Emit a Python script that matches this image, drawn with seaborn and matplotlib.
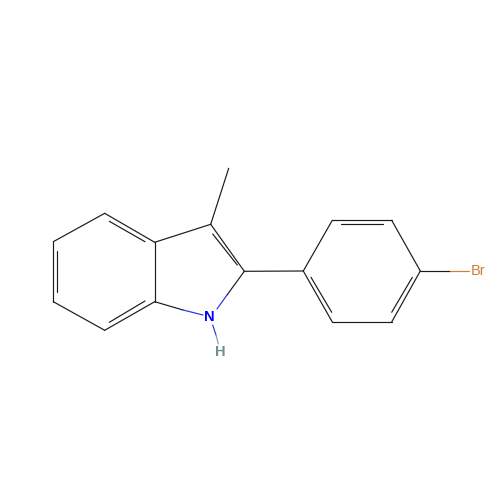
import matplotlib
matplotlib.use("Agg")
import matplotlib.pyplot as plt
import pandas as pd
import seaborn as sns

# each bond piece: x1, y1, x2, y2 in picture pixels
black_bonds = [
    (104.7, 213.3, 53.3, 241.7),
    (53.3, 241.7, 53.3, 301.7),
    (53.3, 301.7, 104.7, 330.3),
    (104.7, 330.3, 154.7, 301.7),
    (154.7, 301.7, 154.7, 242.3),
    (154.7, 242.3, 104.7, 213.3),
    (154.7, 242.3, 210.7, 224.3),
    (210.7, 224.3, 228.7, 168.3),
    (210.7, 224.3, 244.3, 271.3),
    (244.3, 271.3, 303.3, 271.0),
    (154.7, 301.7, 183.0, 310.0),
    (244.3, 271.3, 227.0, 295.0),
    (303.3, 271.0, 332.3, 220.3),
    (332.3, 220.3, 391.7, 220.3),
    (391.7, 220.3, 420.3, 271.0),
    (420.3, 271.0, 391.7, 322.0),
    (391.7, 322.0, 332.3, 322.0),
    (332.3, 322.0, 303.3, 271.0),
    (420.3, 271.0, 450.0, 271.0),
    # inner lines of the double bonds
    (109.3, 221.3, 145.0, 241.7),
    (57.0, 250.7, 57.0, 292.3),
    (109.3, 322.3, 145.0, 301.0),
    (212.7, 234.0, 237.3, 265.0),
    (341.0, 224.3, 382.7, 224.3),
    (311.0, 277.3, 331.7, 312.3),
    (412.3, 277.3, 391.7, 312.3),
]
blue_bonds = [
    (183.0, 310.0, 203.0, 315.0),
    (227.0, 295.0, 217.0, 309.0),
    (212.7, 325.0, 216.0, 335.0),
]
grey_bonds = [(216.0, 335.0, 218.3, 344.0)]
orange_bonds = [(450.0, 271.0, 468.7, 271.0)]

atom_labels = ["N", "H", "Br"]
atom_x = [209.5, 220.5, 478.5]
atom_y = [317.0, 352.0, 271.0]
atom_colors = ["#0000ff", "#6f8f8f", "#d07f30"]
atom_weights = ["bold", "bold", "normal"]

palette = {"black": "#1a1a1a", "blue": "#2233ee", "grey": "#7f9c9c", "orange": "#cc8033"}

rows = []
groups = [("black", black_bonds), ("blue", blue_bonds), ("grey", grey_bonds), ("orange", orange_bonds)]
for kind, bonds in groups:
    for i, (x1, y1, x2, y2) in enumerate(bonds):
        rows.append([f"{kind}{i}", kind, x1, y1])
        rows.append([f"{kind}{i}", kind, x2, y2])
data = pd.DataFrame(rows, columns=("bond", "kind", "x", "y"))

sns.set_theme(style="white")
fig, ax = plt.subplots(figsize=(5, 5), dpi=100)
fig.subplots_adjust(left=0, right=1, bottom=0, top=1)
sns.lineplot(data=data, x="x", y="y", hue="kind", units="bond", estimator=None, sort=False,
             palette=palette, linewidth=0.85, legend=False, ax=ax)

for label, x, y, c, w in zip(atom_labels, atom_x, atom_y, atom_colors, atom_weights):
    ax.text(x, y, label, color=c, fontweight=w, fontsize=10.5, family="Liberation Sans",
            ha="center", va="center")

ax.set_xlim(0, 500)
ax.set_ylim(500, 0)
ax.axis("off")
fig.savefig("out.png", dpi=100)
